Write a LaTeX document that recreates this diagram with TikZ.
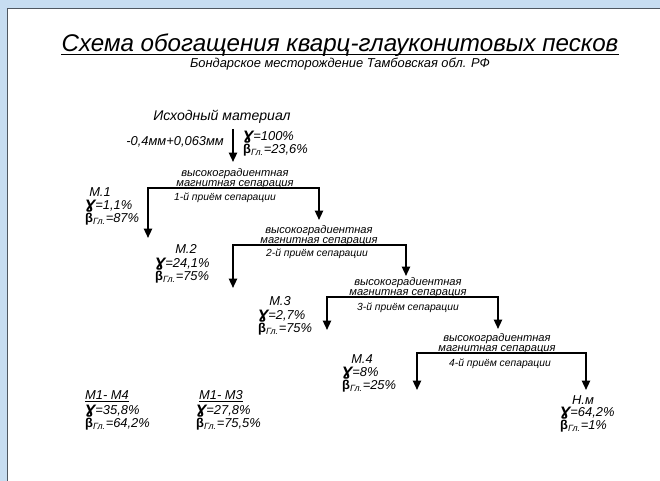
\documentclass[tikz,border=0pt]{standalone}
\usepackage{fontspec}
\setmainfont{Liberation Sans}
\newfontfamily\gamfont{DejaVu Sans}
\usetikzlibrary{arrows.meta}
\definecolor{pageblue}{HTML}{C7DDF1}
\definecolor{rimgray}{HTML}{4F5760}
\newcommand\gm{{\gamfont\bfseries Ɣ}}
\newcommand\bt{{\upshape\bfseries β}\textsubscript{\itshape Гл.}}
\tikzset{
  every node/.style={inner sep=0pt,font=\itshape\fontsize{9.5}{8.4}\selectfont},
  hgms/.style={align=center},
  sepstep/.style={font=\itshape\fontsize{8.8}{10}\selectfont},
  val/.style={anchor=north west,align=left,font=\itshape\fontsize{11}{9.6}\selectfont},
  res/.style={font=\itshape\fontsize{11}{12}\selectfont},
  flow/.style={line width=1.5pt,{Triangle[width=7pt,length=8pt]}-{Triangle[width=7pt,length=8pt]}},
}
\begin{document}
\begin{tikzpicture}[x=0.03cm,y=-0.03cm]
  \useasboundingbox (0,0) rectangle (660,481);
  \fill[pageblue] (0,0) rectangle (660,481);
  \fill[white] (7.5,8.5) rectangle (660,481);
  \draw[rimgray,line width=1.2pt] (7.5,481) -- (7.5,8.5) -- (660,8.5);
  % heading
  \node[anchor=base,font=\itshape\fontsize{20.6}{22}\selectfont] (title) at (340,52) {Схема обогащения кварц-глауконитовых песков};
  \draw[line width=0.7pt] ([yshift=-2.2pt]title.base west) -- ([yshift=-2.2pt]title.base east);
  \node[font=\itshape\fontsize{11}{12}\selectfont] (place) at (340,64.5) {Бондарское месторождение Тамбовская обл. РФ};
  % feed
  \node[font=\itshape\fontsize{12}{13}\selectfont] (feed) at (222,117) {Исходный материал};
  \coordinate (in0) at (233,129);
  \coordinate (in1) at (233,162);
  \draw[line width=1.5pt,-{Triangle[width=7pt,length=8pt]}] (in0) -- (in1);
  \node[res,anchor=east] (size) at (224,142) {-0,4мм+0,063мм};
  \node[val] (feedv) at (243,131) {\gm=100\%\\\bt=23,6\%};
  % separation stages
  \node[hgms] (hg1) at (235,178.5) {высокоградиентная\\магнитная сепарация};
  \node[sepstep] (st1) at (225,198) {1-й приём сепарации};
  \coordinate (c1l) at (148,188); \coordinate (c1r) at (319,188);
  \coordinate (m1) at (148,238); \coordinate (f1) at (319,220);
  \draw[flow] (m1) -- (c1l) -- (c1r) -- (f1);
  \node[hgms] (hg2) at (319,235.5) {высокоградиентная\\магнитная сепарация};
  \node[sepstep] (st2) at (317,254) {2-й приём сепарации};
  \coordinate (c2l) at (233,245); \coordinate (c2r) at (406,245);
  \coordinate (m2) at (233,288); \coordinate (f2) at (406,276);
  \draw[flow] (m2) -- (c2l) -- (c2r) -- (f2);
  \node[hgms] (hg3) at (408,287.5) {высокоградиентная\\магнитная сепарация};
  \node[sepstep] (st3) at (408,308) {3-й приём сепарации};
  \coordinate (c3l) at (327,297); \coordinate (c3r) at (498,297);
  \coordinate (m3) at (327,330); \coordinate (f3) at (498,329);
  \draw[flow] (m3) -- (c3l) -- (c3r) -- (f3);
  \node[hgms] (hg4) at (497,343.5) {высокоградиентная\\магнитная сепарация};
  \node[sepstep] (st4) at (500,364) {4-й приём сепарации};
  \coordinate (c4l) at (417,353); \coordinate (c4r) at (586,353);
  \coordinate (m4) at (417,390); \coordinate (f4) at (586,390);
  \draw[flow] (m4) -- (c4l) -- (c4r) -- (f4);
  % products
  \node[res] (p1) at (100,192) {М.1};
  \node[val] (p1v) at (85,200) {\gm=1,1\%\\\bt=87\%};
  \node[res] (p2) at (186,249) {М.2};
  \node[val] (p2v) at (155,258) {\gm=24,1\%\\\bt=75\%};
  \node[res] (p3) at (280,301) {М.3};
  \node[val] (p3v) at (258,310) {\gm=2,7\%\\\bt=75\%};
  \node[res] (p4) at (362,359) {М.4};
  \node[val] (p4v) at (342,367) {\gm=8\%\\\bt=25\%};
  \node[res] (nm) at (583,400) {Н.м};
  \node[val] (nmv) at (560,407) {\gm=64,2\%\\\bt=1\%};
  % sums
  \node[res] (s14) at (107,396) {\underline{М1- М4}};
  \node[val] (s14v) at (85,405) {\gm=35,8\%\\\bt=64,2\%};
  \node[res] (s13) at (221,396) {\underline{М1- М3}};
  \node[val] (s13v) at (196,405) {\gm=27,8\%\\\bt=75,5\%};
\end{tikzpicture}
\end{document}
